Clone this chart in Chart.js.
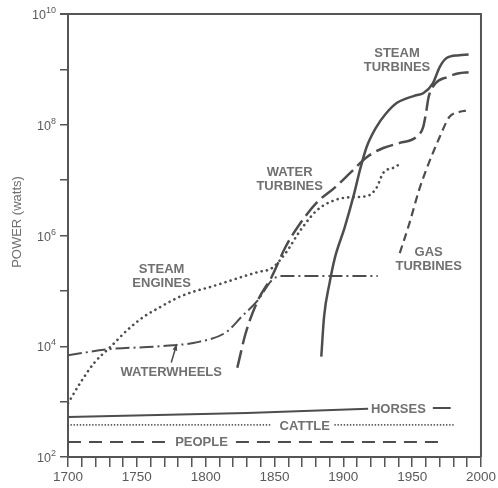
<!DOCTYPE html>
<html>
<head>
<meta charset="utf-8">
<script src="https://cdn.jsdelivr.net/npm/chart.js@4/dist/chart.umd.min.js"></script>
<style>
  html, body { margin: 0; padding: 0; background: #fff; }
  #wrap { width: 498px; height: 488px; }
</style>
</head>
<body>
<div id="wrap"><canvas id="chart" width="498" height="488"></canvas></div>
<script>
// Values (year, watts)
const steamEngineYears = [1700, 1709, 1719, 1731, 1743, 1755, 1767, 1779, 1790, 1803, 1815, 1826, 1838, 1848, 1858, 1869, 1881, 1894, 1905, 1917, 1924, 1929, 1937, 1941];
const steamEnginePower = [930, 2200, 5000, 9800, 19500, 34000, 51000, 74000, 95000, 117000, 145000, 178000, 219000, 257000, 479000, 1260000, 2880000, 4370000, 4900000, 5130000, 7200000, 13500000, 17000000, 19500000];

const waterwheelYears = [1700, 1731, 1767, 1795, 1815, 1826, 1838, 1848, 1855, 1925];
const waterwheelPower = [6900, 8900, 10000, 12000, 18000, 34000, 68000, 155000, 186000, 186000];

const waterTurbineYears = [1823, 1829, 1838, 1848, 1858, 1869, 1881, 1894, 1905, 1917, 1929, 1941, 1953, 1958, 1960, 1962, 1967, 1975, 1984, 1991];
const waterTurbinePower = [4100, 17000, 68000, 180000, 620000, 1700000, 4000000, 7400000, 13500000, 26000000, 38000000, 47000000, 60000000, 91000000, 160000000, 320000000, 560000000, 720000000, 850000000, 890000000];

const steamTurbineYears = [1884, 1886, 1890, 1894, 1901, 1908, 1912, 1917, 1924, 1931, 1939, 1946, 1953, 1958, 1965, 1970, 1975, 1984, 1991];
const steamTurbinePower = [6500, 34000, 138000, 407000, 1400000, 5900000, 15000000, 40000000, 91000000, 160000000, 250000000, 300000000, 340000000, 370000000, 560000000, 1100000000, 1600000000, 1800000000, 1860000000];

const gasTurbineYears = [1941, 1948, 1955, 1962, 1970, 1977, 1984, 1989];
const gasTurbinePower = [480000, 1660000, 6600000, 20000000, 60000000, 138000000, 170000000, 180000000];

// null = gap where the label sits
const horseYears = [1700, 1830, 1918, 1940, 1965, 1978];
const horsePower = [525, 620, 740, null, 770, 770];

const cattleYears = [1700, 1848, 1870, 1894, 1980];
const cattlePower = [380, 380, null, 380, 380];

const peopleYears = [1700, 1774, 1798, 1822, 1970];
const peoplePower = [186, 186, null, 186, 186];

const decades = [1e2, 1e3, 1e4, 1e5, 1e6, 1e7, 1e8, 1e9, 1e10];

// text labels: lines, year, watts (centre of the first line)
const curveLabels = [
    [['STEAM', 'ENGINES'], 1768, 245000],
    [['WATERWHEELS'], 1775, 3300],
    [['WATER', 'TURBINES'], 1861, 13500000],
    [['STEAM', 'TURBINES'], 1939, 1950000000],
    [['GAS', 'TURBINES'], 1962, 500000],
    [['HORSES'], 1940, 710],
    [['CATTLE'], 1872, 350],
    [['PEOPLE'], 1797, 186]
];

const ink = '#4d4d4d';
const textInk = '#707070';

function pts(xs, ys) {
    return xs.map((x, i) => ({ x: x, y: ys[i] }));
}

function series(label, xs, ys, opts) {
    return Object.assign({
        label: label,
        data: pts(xs, ys),
        borderColor: ink,
        borderWidth: 2,
        pointRadius: 0,
        fill: false,
        spanGaps: false,
        cubicInterpolationMode: 'monotone'
    }, opts);
}

const annotate = {
    id: 'annotate',
    afterDraw(chart) {
        const ctx = chart.ctx;
        const a = chart.chartArea;
        const xs = chart.scales.x;
        const ys = chart.scales.y;
        ctx.save();

        // frame top and right
        ctx.strokeStyle = '#555';
        ctx.lineWidth = 2;
        ctx.beginPath();
        ctx.moveTo(a.left - 8, a.top);
        ctx.lineTo(a.right, a.top);
        ctx.lineTo(a.right, a.bottom);
        ctx.stroke();

        // y tick labels 10^n
        ctx.fillStyle = '#5a5a5a';
        ctx.textBaseline = 'alphabetic';
        [2, 4, 6, 8, 10].forEach(function(e) {
            const y = ys.getPixelForValue(Math.pow(10, e));
            ctx.font = '9px "Liberation Sans", Arial, sans-serif';
            const sup = String(e);
            const sw = ctx.measureText(sup).width;
            ctx.textAlign = 'right';
            ctx.fillText(sup, a.left - 12, y - 1);
            ctx.font = '12.5px "Liberation Sans", Arial, sans-serif';
            ctx.fillText('10', a.left - 12 - sw, y + 5);
        });

        // axis title
        ctx.save();
        ctx.translate(17, 222);
        ctx.rotate(-Math.PI / 2);
        ctx.font = '13px "Liberation Sans", Arial, sans-serif';
        ctx.fillStyle = textInk;
        ctx.textAlign = 'center';
        ctx.textBaseline = 'middle';
        ctx.fillText('POWER (watts)', 0, 0);
        ctx.restore();

        // curve labels
        ctx.font = 'bold 13px "Liberation Sans", Arial, sans-serif';
        ctx.fillStyle = textInk;
        ctx.textAlign = 'center';
        ctx.textBaseline = 'middle';
        curveLabels.forEach(function(l) {
            const px = xs.getPixelForValue(l[1]);
            const py = ys.getPixelForValue(l[2]);
            l[0].forEach(function(t, i) {
                ctx.fillText(t, px, py + i * 14);
            });
        });

        // waterwheels arrow
        const x0 = xs.getPixelForValue(1775), y0 = ys.getPixelForValue(5100);
        const x1 = xs.getPixelForValue(1779), y1 = ys.getPixelForValue(11000);
        ctx.strokeStyle = ink;
        ctx.fillStyle = ink;
        ctx.lineWidth = 1.5;
        ctx.beginPath();
        ctx.moveTo(x0, y0);
        ctx.lineTo(x1, y1);
        ctx.stroke();
        const ang = Math.atan2(y1 - y0, x1 - x0);
        ctx.beginPath();
        ctx.moveTo(x1, y1);
        ctx.lineTo(x1 - 7 * Math.cos(ang - 0.35), y1 - 7 * Math.sin(ang - 0.35));
        ctx.lineTo(x1 - 7 * Math.cos(ang + 0.35), y1 - 7 * Math.sin(ang + 0.35));
        ctx.closePath();
        ctx.fill();

        ctx.restore();
    }
};

new Chart(document.getElementById('chart'), {
    type: 'line',
    data: {
        datasets: [
            series('Steam engines', steamEngineYears, steamEnginePower, { borderWidth: 2.6, borderDash: [0.1, 5.3], borderCapStyle: 'round' }),
            series('Waterwheels', waterwheelYears, waterwheelPower, { borderDash: [14, 4, 2, 4] }),
            series('Water turbines', waterTurbineYears, waterTurbinePower, { borderWidth: 2.5, borderDash: [18, 6] }),
            series('Steam turbines', steamTurbineYears, steamTurbinePower, { borderWidth: 2.5 }),
            series('Gas turbines', gasTurbineYears, gasTurbinePower, { borderWidth: 2.2, borderDash: [8, 5] }),
            series('Horses', horseYears, horsePower, { cubicInterpolationMode: 'default', tension: 0 }),
            series('Cattle', cattleYears, cattlePower, { borderWidth: 1.6, borderDash: [0.1, 3], borderCapStyle: 'round', cubicInterpolationMode: 'default', tension: 0 }),
            series('People', peopleYears, peoplePower, { borderDash: [13, 8], cubicInterpolationMode: 'default', tension: 0 })
        ]
    },
    options: {
        responsive: false,
        animation: false,
        layout: { padding: { top: 14, right: 12, left: 0, bottom: 0 } },
        plugins: {
            legend: { display: false },
            tooltip: { enabled: false }
        },
        scales: {
            x: {
                type: 'linear',
                min: 1700,
                max: 2000,
                afterFit: function(scale) { scale.height = 31; },
                border: { display: true, color: '#555', width: 2 },
                grid: { drawOnChartArea: false, drawTicks: true, tickLength: 10, color: '#555', lineWidth: 1.5 },
                ticks: {
                    stepSize: 10,
                    autoSkip: false,
                    maxRotation: 0,
                    padding: 2,
                    color: '#5a5a5a',
                    font: { family: '"Liberation Sans", Arial, sans-serif', size: 13.5 },
                    callback: function(v) { return v % 50 === 0 ? String(v) : ''; }
                }
            },
            y: {
                type: 'logarithmic',
                min: 1e2,
                max: 1e10,
                afterFit: function(scale) { scale.width = 68; },
                afterBuildTicks: function(scale) {
                    scale.ticks = decades.map(function(v) { return { value: v }; });
                },
                border: { display: true, color: '#555', width: 2 },
                grid: { drawOnChartArea: false, drawTicks: true, tickLength: 8, color: '#555', lineWidth: 1.5 },
                ticks: { callback: function() { return ''; } }
            }
        }
    },
    plugins: [annotate]
});
</script>
</body>
</html>
